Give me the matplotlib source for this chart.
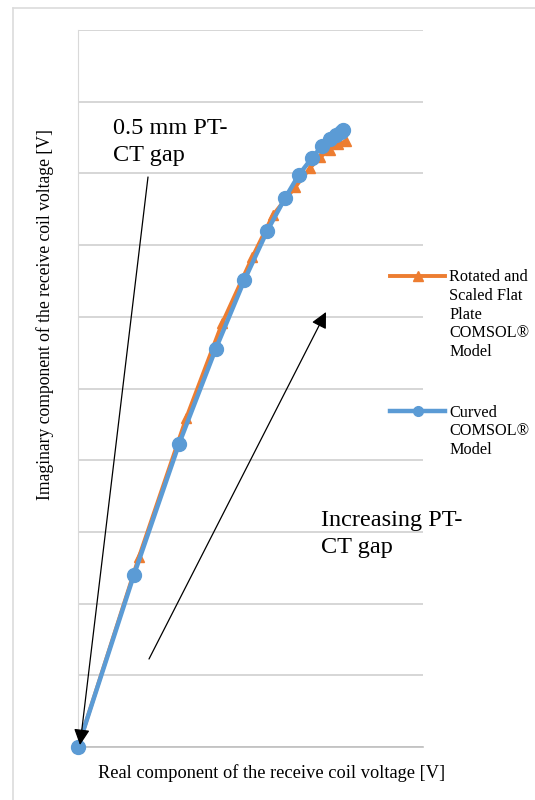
import matplotlib
matplotlib.use("Agg")
import matplotlib.pyplot as plt
from matplotlib.lines import Line2D

plt.rcParams["font.family"] = ["Liberation Serif", "DejaVu Serif"]

# values (arbitrary voltage units, one grid step = 1)
flat_re = [0.0, 0.85, 1.51, 2.01, 2.43, 2.72, 3.03, 3.24, 3.38, 3.51, 3.63, 3.74]
flat_im = [0.0, 2.65, 4.59, 5.91, 6.83, 7.42, 7.81, 8.08, 8.23, 8.33, 8.41, 8.45]

curved_re = [0.0, 0.78, 1.41, 1.92, 2.32, 2.64, 2.89, 3.08, 3.26, 3.40, 3.51, 3.60, 3.67, 3.70]
curved_im = [0.0, 2.40, 4.23, 5.55, 6.51, 7.20, 7.66, 7.98, 8.21, 8.38, 8.48, 8.54, 8.58, 8.61]

ORANGE = "#ED7D31"
BLUE = "#5B9BD5"
W, H = 535, 800
AX_L, AX_R, AX_T, AX_B = 78, 423, 30, 747


def fx(px):
    return px / W


def fy(py):
    return 1 - py / H


fig = plt.figure(figsize=(5.35, 8.0), dpi=100)
ax = fig.add_axes([fx(AX_L), fy(AX_B), fx(AX_R) - fx(AX_L), fy(AX_T) - fy(AX_B)])

ax.plot(flat_re, flat_im, color=ORANGE, lw=2.8, marker="^", ms=7.5, zorder=3, clip_on=False)
ax.plot(curved_re, curved_im, color=BLUE, lw=3.2, marker="o", ms=10, zorder=4, clip_on=False)

ax.set_xlim(0, (AX_R - AX_L) / 71.7)
ax.set_ylim(0, 10)
ax.set_yticks(range(0, 11))
ax.set_xticks([])
ax.tick_params(axis="y", length=0, labelleft=False)
ax.grid(axis="y", color="#d0d0d0", lw=1.2)
ax.set_axisbelow(True)
for s in ["top", "right"]:
    ax.spines[s].set_visible(False)
ax.spines["left"].set_color("#d9d9d9")
ax.spines["bottom"].set_color("#bfbfbf")
ax.spines["bottom"].set_linewidth(1.2)

ax.set_xlabel("Real component of the receive coil voltage [V]", fontsize=13.2)
ax.set_ylabel("Imaginary component of the receive coil voltage [V]", fontsize=12.7)
ax.xaxis.set_label_coords((272 - AX_L) / (AX_R - AX_L), -(764 - AX_B) / (AX_B - AX_T))
ax.yaxis.set_label_coords(-(AX_L - 54) / (AX_R - AX_L), (AX_B - 315) / (AX_B - AX_T))

# outer frame
fig.add_artist(Line2D([fx(13), 1], [fy(8), fy(8)], color="#dcdcdc", lw=1.2))
fig.add_artist(Line2D([fx(13), fx(13)], [fy(8), 0], color="#dcdcdc", lw=1.2))

# annotations (y given at the baseline of the last line)
fig.text(fx(113), fy(161), "0.5 mm PT-\nCT gap", fontsize=17.5, va="baseline", ha="left",
         linespacing=1.35)
ax.annotate("", xy=(fx(80), fy(745)), xycoords="figure fraction",
            xytext=(fx(148), fy(177)), textcoords="figure fraction", zorder=6,
            arrowprops=dict(arrowstyle="-|>", color="black", lw=0.9, mutation_scale=24,
                            shrinkA=0, shrinkB=0))
fig.text(fx(321), fy(553), "Increasing PT-\nCT gap", fontsize=17.5, va="baseline", ha="left",
         linespacing=1.35)
ax.annotate("", xy=(fx(326), fy(312)), xycoords="figure fraction",
            xytext=(fx(149), fy(659)), textcoords="figure fraction", zorder=6,
            arrowprops=dict(arrowstyle="-|>", color="black", lw=0.9, mutation_scale=24,
                            shrinkA=0, shrinkB=0))

# legend
fig.add_artist(Line2D([fx(390), fx(445)], [fy(276), fy(276)], color=ORANGE, lw=2.8))
fig.add_artist(Line2D([fx(418)], [fy(276)], color=ORANGE, marker="^", ms=7.5))
fig.text(fx(449), fy(356), "Rotated and\nScaled Flat\nPlate\nCOMSOL®\nModel",
         fontsize=11.7, va="baseline", ha="left", linespacing=1.22)
fig.add_artist(Line2D([fx(390), fx(445)], [fy(411), fy(411)], color=BLUE, lw=3.2))
fig.add_artist(Line2D([fx(418)], [fy(411)], color=BLUE, marker="o", ms=7))
fig.text(fx(449), fy(454), "Curved\nCOMSOL®\nModel",
         fontsize=11.7, va="baseline", ha="left", linespacing=1.22)

fig.savefig("out.png", dpi=100)
